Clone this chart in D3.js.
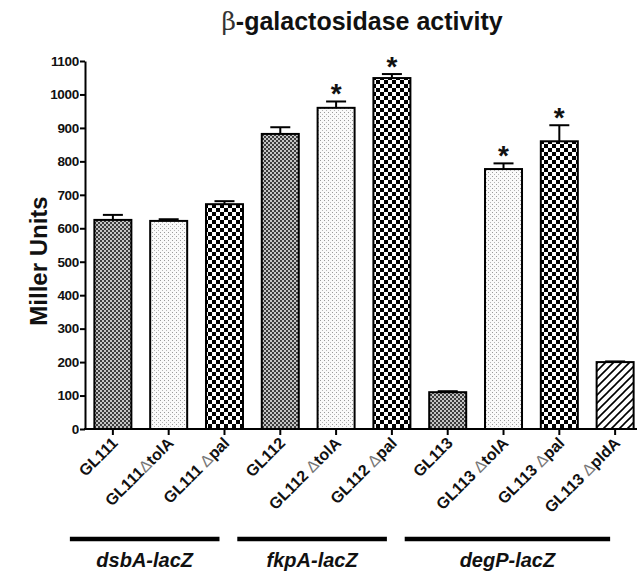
<!DOCTYPE html>
<html>
<head>
<meta charset="utf-8">
<script src="https://cdn.jsdelivr.net/npm/d3@7"></script>
<style>
  html, body { margin: 0; padding: 0; background: #fff; }
  svg { display: block; }
  text { font-family: "Liberation Sans", Arial, sans-serif; }
</style>
</head>
<body>
<svg id="chart" width="637" height="573"></svg>
<script>
// ---- data ----
const strains = ["GL111", "GL111\u0394tolA", "GL111 \u0394pal",
                 "GL112", "GL112 \u0394tolA", "GL112 \u0394pal",
                 "GL113", "GL113 \u0394tolA", "GL113 \u0394pal", "GL113 \u0394pldA"];
const fills = ["fine", "dots", "check", "fine", "dots", "check", "fine", "dots", "check", "hatch"];
const values = [625, 622, 672, 882, 960, 1049, 110, 777, 860, 200];
const errors = [15, 5, 9, 20, 19, 12, 3, 17, 48, 2];
const significant = [false, false, false, false, true, true, false, true, true, false];
const yTicks = [0, 100, 200, 300, 400, 500, 600, 700, 800, 900, 1000, 1100];
const groupNames = ["dsbA-lacZ", "fkpA-lacZ", "degP-lacZ"];
const groupFirst = ["GL111", "GL112", "GL113"];
const groupLast = ["GL111 \u0394pal", "GL112 \u0394pal", "GL113 \u0394pldA"];
const titleText = "\u03B2-galactosidase activity";
const yLabel = "Miller Units";

// ---- layout ----
const svg = d3.select("#chart");
const x0 = 85, x1 = 643, yTop = 61, yBot = 429;
const x = d3.scaleBand().domain(strains).range([x0, x1]).paddingInner(0.337).paddingOuter(0.168);
const y = d3.scaleLinear().domain([0, 1100]).range([yBot, yTop]);

// ---- patterns ----
const defs = svg.append("defs");
const pFine = defs.append("pattern").attr("id", "fine").attr("patternUnits", "userSpaceOnUse")
  .attr("width", 4).attr("height", 4);
pFine.append("rect").attr("width", 4).attr("height", 4).attr("fill", "#c4c4c4");
pFine.append("rect").attr("x", 0).attr("y", 0).attr("width", 2).attr("height", 2).attr("fill", "#3c3c3c");
pFine.append("rect").attr("x", 2).attr("y", 2).attr("width", 2).attr("height", 2).attr("fill", "#3c3c3c");

const pDots = defs.append("pattern").attr("id", "dots").attr("patternUnits", "userSpaceOnUse")
  .attr("width", 4).attr("height", 4);
pDots.append("rect").attr("width", 4).attr("height", 4).attr("fill", "#fafafa");
pDots.append("rect").attr("x", 0).attr("y", 0).attr("width", 1).attr("height", 1).attr("fill", "#9a9a9a");
pDots.append("rect").attr("x", 2).attr("y", 2).attr("width", 1).attr("height", 1).attr("fill", "#b5b5b5");

const pCheck = defs.append("pattern").attr("id", "check").attr("patternUnits", "userSpaceOnUse")
  .attr("width", 8).attr("height", 8);
pCheck.append("rect").attr("width", 8).attr("height", 8).attr("fill", "#ffffff");
pCheck.append("rect").attr("x", 0).attr("y", 0).attr("width", 4).attr("height", 4).attr("fill", "#000");
pCheck.append("rect").attr("x", 4).attr("y", 4).attr("width", 4).attr("height", 4).attr("fill", "#000");

const pHatch = defs.append("pattern").attr("id", "hatch").attr("patternUnits", "userSpaceOnUse")
  .attr("width", 8).attr("height", 8);
pHatch.append("rect").attr("width", 8).attr("height", 8).attr("fill", "#fff");
pHatch.append("path").attr("d", "M-2,2 L2,-2 M0,8 L8,0 M6,10 L10,6")
  .attr("stroke", "#000").attr("stroke-width", 1.6);

// ---- title ----
const title = svg.append("text").attr("x", 362).attr("y", 30)
  .attr("text-anchor", "middle").attr("font-size", 25).attr("font-weight", "bold").attr("fill", "#111");
title.append("tspan").attr("font-weight", "normal").attr("font-family", "DejaVu Serif, serif")
  .attr("fill", "#333").text(titleText[0]);
title.append("tspan").text(titleText.slice(1));

// ---- y axis label ----
svg.append("text").attr("transform", "translate(47,261) rotate(-90)")
  .attr("text-anchor", "middle").attr("font-size", 24).attr("font-weight", "bold").attr("fill", "#111")
  .text(yLabel);

// ---- bars ----
const bars = svg.append("g");
strains.forEach((s, i) => {
  const cx = x(s) + x.bandwidth() / 2;
  bars.append("line").attr("x1", cx).attr("x2", cx)
    .attr("y1", y(values[i])).attr("y2", y(values[i] + errors[i]))
    .attr("stroke", "#000").attr("stroke-width", 2);
  bars.append("line").attr("x1", cx - 10).attr("x2", cx + 10)
    .attr("y1", y(values[i] + errors[i])).attr("y2", y(values[i] + errors[i]))
    .attr("stroke", "#000").attr("stroke-width", 2);
  bars.append("rect").attr("x", x(s)).attr("y", y(values[i]))
    .attr("width", x.bandwidth()).attr("height", y(0) - y(values[i]))
    .attr("fill", "url(#" + fills[i] + ")").attr("stroke", "#000").attr("stroke-width", 2);
  if (significant[i]) {
    svg.append("text").attr("x", cx).attr("y", y(values[i] + errors[i]) + 2)
      .attr("text-anchor", "middle").attr("font-size", 28).attr("font-weight", "bold").attr("fill", "#111")
      .text("*");
  }
});

// ---- y axis ----
const yAxis = svg.append("g").attr("transform", `translate(${x0},0)`)
  .call(d3.axisLeft(y).tickValues(yTicks).tickSize(5).tickSizeOuter(0).tickFormat(d3.format("d")));
yAxis.select(".domain").attr("stroke", "#000").attr("stroke-width", 2);
yAxis.selectAll(".tick line").attr("stroke", "#000").attr("stroke-width", 2);
yAxis.selectAll(".tick text").attr("font-size", 13.5).attr("font-weight", "bold").attr("fill", "#111")
  .attr("x", -6).attr("letter-spacing", -0.3);

// ---- x axis ----
const xAxis = svg.append("g").attr("transform", `translate(0,${yBot})`)
  .call(d3.axisBottom(x).tickSize(6).tickSizeOuter(0).tickFormat(""));
xAxis.select(".domain").attr("stroke", "#000").attr("stroke-width", 2)
  .attr("d", `M${x0 - 1},0H637`);
xAxis.selectAll(".tick line").attr("stroke", "#000").attr("stroke-width", 2);

// rotated labels
strains.forEach(s => {
  const cx = x(s) + x.bandwidth() / 2;
  const t = svg.append("text")
    .attr("transform", `translate(${cx + 6},${yBot + 15}) rotate(-45)`)
    .attr("text-anchor", "end").attr("font-size", 16).attr("font-weight", "bold").attr("fill", "#111");
  const k = s.indexOf("\u0394");
  if (k < 0) { t.text(s); }
  else {
    t.append("tspan").text(s.slice(0, k));
    t.append("tspan").attr("font-weight", "normal").attr("fill", "#777").text("\u0394");
    t.append("tspan").text(s.slice(k + 1));
  }
});

// ---- group lines ----
groupNames.forEach((g, i) => {
  const a = x(groupFirst[i]) + x.bandwidth() / 2 - 43;
  const b = x(groupLast[i]) + x.bandwidth() / 2 - 5;
  svg.append("line").attr("x1", a).attr("x2", b).attr("y1", 539).attr("y2", 539)
    .attr("stroke", "#000").attr("stroke-width", 4.5);
  svg.append("text").attr("x", (a + b) / 2).attr("y", 567).attr("text-anchor", "middle")
    .attr("font-size", 20).attr("font-weight", "bold").attr("font-style", "italic").attr("fill", "#111")
    .text(g);
});
</script>
</body>
</html>
